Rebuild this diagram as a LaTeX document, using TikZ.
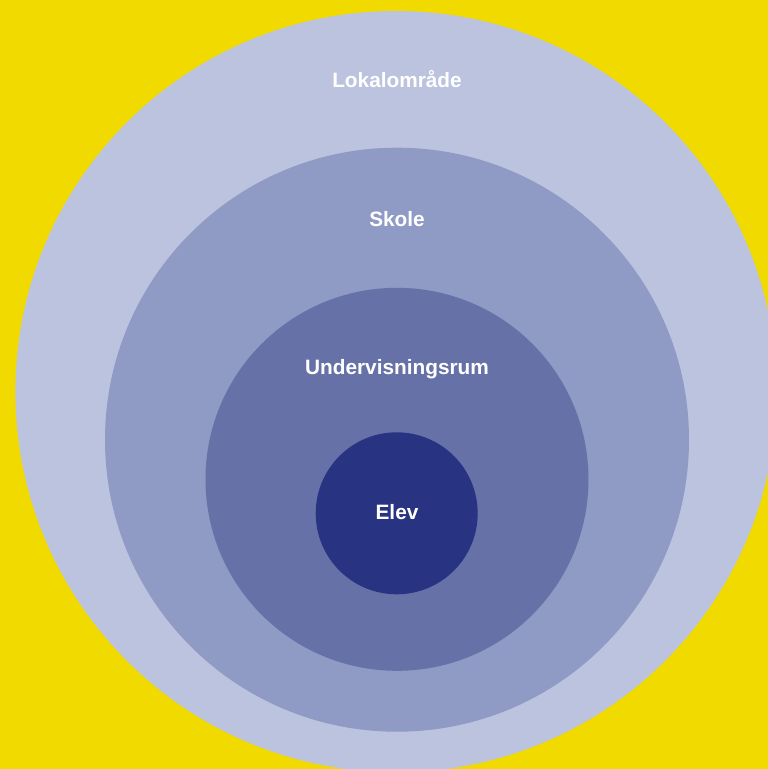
\documentclass[tikz,border=0pt]{standalone}
\usepackage{fontspec}
\setmainfont{Liberation Sans}

\definecolor{bgyellow}{HTML}{F0DA00}
\definecolor{ringA}{HTML}{BCC3DE}
\definecolor{ringB}{HTML}{8F9AC5}
\definecolor{ringC}{HTML}{6672A7}
\definecolor{ringD}{HTML}{283482}

\tikzset{
  ring/.style={circle, inner sep=0pt, outer sep=0pt},
  ringtext/.style={text=white, font=\bfseries\fontsize{20.8}{24}\selectfont}
}

\begin{document}
\begin{tikzpicture}[x=1pt,y=-1pt]
    \useasboundingbox (0,0) rectangle (768,769);
    \clip (0,0) rectangle (768,769);
    \fill[bgyellow] (0,0) rectangle (768,769);
    \draw 
    (396,391.6)node(lokal)[ring, fill=ringA, minimum size=761.2pt]{}
    (397,439.7)node(skole)[ring, fill=ringB, minimum size=584pt]{}
    (397,479.3)node(rum)[ring, fill=ringC, minimum size=383pt]{}
    (396.7,513.3)node(elev)[ring, fill=ringD, minimum size=162pt]{};
    %
    \node(lokaltxt)[ringtext] at (397,79.5){Lokalområde};
    \node(skoletxt)[ringtext] at (397,219.5){Skole};
    \node(rumtxt)[ringtext] at (397,369){Undervisningsrum};
    \node(elevtxt)[ringtext] at (397,512.5){Elev};
\end{tikzpicture}
\end{document}
